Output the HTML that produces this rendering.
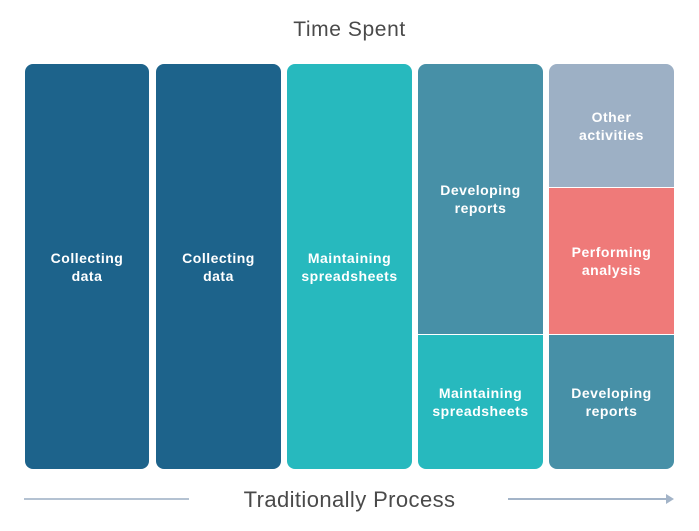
<!DOCTYPE html>
<html><head><meta charset="utf-8"><style>
body{margin:0;width:699px;height:531px;background:#fff;position:relative;overflow:hidden;font-family:"Liberation Sans",sans-serif}
.b{position:absolute;display:flex;align-items:center;justify-content:center;text-align:center;color:#fff;font-weight:bold;font-size:14px;letter-spacing:0.5px;line-height:18px;box-sizing:border-box}
.t{position:absolute;width:699px;text-align:center;color:#4a4a4a;font-size:21px;letter-spacing:0.6px}
</style></head><body>
<div class="t" style="top:18px;left:0">Time Spent</div>
<div class="b" style="left:25px;top:64px;width:124px;height:405px;background:#1d638b;border-radius:8px">Collecting<br>data</div>
<div class="b" style="left:156px;top:64px;width:125px;height:405px;background:#1d638b;border-radius:8px">Collecting<br>data</div>
<div class="b" style="left:287px;top:64px;width:125px;height:405px;background:#27b9be;border-radius:8px">Maintaining<br>spreadsheets</div>
<div class="b" style="left:418px;top:64px;width:125px;height:270px;background:#4790a7;border-radius:8px 8px 0 0">Developing<br>reports</div>
<div class="b" style="left:418px;top:335px;width:125px;height:134px;background:#27b9be;border-radius:0 0 8px 8px">Maintaining<br>spreadsheets</div>
<div class="b" style="left:549px;top:64px;width:125px;height:123px;background:#9db0c5;border-radius:8px 8px 0 0">Other<br>activities</div>
<div class="b" style="left:549px;top:188px;width:125px;height:146px;background:#ef7a79">Performing<br>analysis</div>
<div class="b" style="left:549px;top:335px;width:125px;height:134px;background:#4790a7;border-radius:0 0 8px 8px">Developing<br>reports</div>
<div class="t" style="top:487px;left:0;font-size:22px;letter-spacing:0.4px">Traditionally Process</div>
<svg style="position:absolute;left:0;top:0" width="699" height="531">
<line x1="24" y1="499" x2="189" y2="499" stroke="#b4c2d2" stroke-width="2"/>
<line x1="508" y1="499" x2="668" y2="499" stroke="#a3b4c8" stroke-width="2"/>
<polygon points="666,494 674,499 666,504" fill="#a3b4c8"/>
</svg>
</body></html>
